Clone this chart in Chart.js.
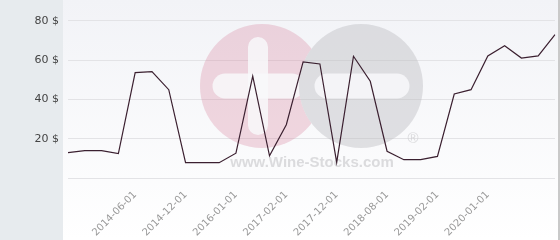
<!DOCTYPE html>
<html>
<head>
<meta charset="utf-8">
<script src="https://cdn.jsdelivr.net/npm/chart.js@4"></script>
<style>
  html, body { margin: 0; padding: 0; background: #fff; }
  #wrap { width: 560px; height: 240px; position: relative; }
</style>
</head>
<body>
<div id="wrap"><canvas id="price_chart"></canvas></div>
<script>
// dates shown on the axis; the ones in between can't be read, so left blank
const dates = [
  '', '', '', '', '2014-06-01', '', '', '2014-12-01', '', '',
  '2016-01-01', '', '', '2017-02-01', '', '', '2017-12-01', '', '',
  '2018-08-01', '', '', '2019-02-01', '', '', '2020-01-01', '', '', '', ''
];
const prices = [
  12.9, 13.9, 13.9, 12.4, 53.6, 54.1, 44.9, 7.8, 7.8, 7.8,
  12.6, 51.8, 11.3, 27.1, 59.0, 58.0, 7.9, 61.9, 49.2, 13.6,
  9.3, 9.3, 11.0, 42.7, 44.9, 62.1, 67.2, 61.0, 62.1, 72.9
];
const yTicks = [0, 20, 40, 60, 80];

// panel backgrounds + faint logo watermark
const backdrop = {
  id: 'backdrop',
  beforeDraw(chart) {
    const ctx = chart.ctx;
    const w = chart.width, h = chart.height;
    ctx.save();
    ctx.fillStyle = '#e7ebee';
    ctx.fillRect(0, 0, 63, h);
    const g = ctx.createLinearGradient(0, 0, 0, h);
    g.addColorStop(0, '#f2f3f7');
    g.addColorStop(1, '#ffffff');
    ctx.fillStyle = g;
    ctx.fillRect(63, 0, w - 65, h);
    ctx.fillStyle = '#c9c9c9';
    ctx.fillRect(w - 2, 0, 2, h);
    ctx.restore();
  },
  beforeDatasetsDraw(chart) {
    const ctx = chart.ctx;
    ctx.save();
    // pink circle with plus, hidden where the gray one sits on top
    ctx.save();
    ctx.beginPath();
    ctx.rect(0, 0, chart.width, chart.height);
    ctx.arc(361, 86, 62, 0, Math.PI * 2);
    ctx.clip('evenodd');
    ctx.fillStyle = 'rgba(214,130,155,0.30)';
    ctx.beginPath(); ctx.arc(262, 86, 62, 0, Math.PI * 2); ctx.fill();
    ctx.strokeStyle = 'rgba(248,248,250,0.85)';
    ctx.lineCap = 'round';
    ctx.lineWidth = 20;
    ctx.beginPath(); ctx.moveTo(258, 47); ctx.lineTo(258, 125); ctx.stroke();
    ctx.lineWidth = 25;
    ctx.beginPath(); ctx.moveTo(225, 86); ctx.lineTo(292, 86); ctx.stroke();
    ctx.restore();
    // gray circle with minus
    ctx.fillStyle = 'rgba(185,185,190,0.42)';
    ctx.beginPath(); ctx.arc(361, 86, 62, 0, Math.PI * 2); ctx.fill();
    ctx.strokeStyle = 'rgba(248,248,250,0.85)';
    ctx.lineCap = 'round';
    ctx.lineWidth = 25;
    ctx.beginPath(); ctx.moveTo(327, 86); ctx.lineTo(397, 86); ctx.stroke();
    ctx.fillStyle = 'rgba(205,205,208,0.7)';
    ctx.font = 'bold 15px "Liberation Sans", Arial, sans-serif';
    ctx.textAlign = 'center';
    ctx.textBaseline = 'middle';
    ctx.fillText('www.Wine-Stocks.com', 312, 163);
    ctx.font = '15px "Liberation Sans", Arial, sans-serif';
    ctx.fillText('\u00AE', 413, 139);
    ctx.restore();
  }
};

const price_chart = new Chart(document.getElementById('price_chart'), {
  type: 'line',
  data: {
    labels: dates,
    datasets: [{
      data: prices,
      borderColor: '#3b2030',
      borderWidth: 1.2,
      pointRadius: 0,
      tension: 0,
      fill: false
    }]
  },
  options: {
    responsive: true,
    maintainAspectRatio: false,
    animation: false,
    layout: { padding: { top: 1, right: 5, left: 0, bottom: 0 } },
    plugins: { legend: { display: false }, tooltip: { enabled: false } },
    scales: {
      x: {
        grid: { display: false },
        border: { display: false },
        ticks: {
          autoSkip: false,
          minRotation: 45,
          maxRotation: 45,
          padding: 3,
          color: '#999',
          font: { family: '"DejaVu Sans", sans-serif', size: 10 }
        },
        afterFit(scale) {
          scale.height = 62;
          scale.paddingLeft = 0;
          scale.paddingRight = 0;
        }
      },
      y: {
        min: 0,
        max: 90,
        grid: { color: '#e3e3e6', drawTicks: false },
        border: { display: false },
        ticks: {
          padding: 9,
          color: '#444',
          font: { family: '"DejaVu Sans", sans-serif', size: 11 },
          callback: v => v === 0 ? '' : v + ' $'
        },
        afterBuildTicks(scale) {
          scale.ticks = yTicks.map(v => ({ value: v }));
        },
        afterFit(scale) {
          scale.width = 68;
          scale.paddingTop = 0;
          scale.paddingBottom = 0;
        }
      }
    }
  },
  plugins: [backdrop]
});
</script>
</body>
</html>
